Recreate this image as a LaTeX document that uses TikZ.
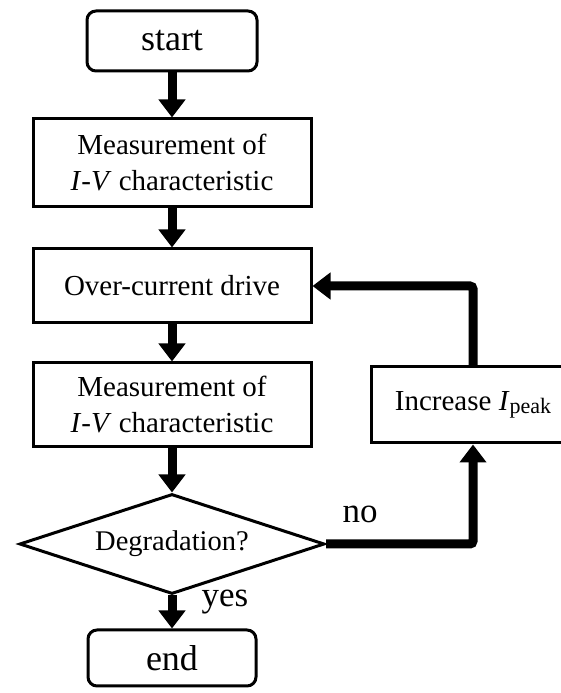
\documentclass[tikz,border=0pt]{standalone}
\usepackage{fontspec}
\setmainfont{Liberation Serif}
\usetikzlibrary{shapes.geometric, arrows.meta, positioning}
\tikzset{
  terminal/.style={
    rectangle, rounded corners=9pt,
    minimum width=170pt, minimum height=60pt,
    text centered, draw, line width=3pt,
    font=\fontsize{36}{40}\selectfont,
  },
  process/.style={
    rectangle,
    minimum width=278pt, minimum height=74pt,
    align=center, draw, line width=3pt,
    font=\fontsize{29}{36}\selectfont,
  },
  tallprocess/.style={process, minimum height=88pt},
  decision/.style={
    diamond, aspect=3.05, inner sep=0pt,
    minimum width=305pt, minimum height=100pt,
    text centered, draw, line width=3pt,
    font=\fontsize{28.5}{32}\selectfont,
  },
  arrow/.style={-{Triangle[width=26pt, length=18pt]}, line width=9pt},
  loopline/.style={arrow, rounded corners=3pt},
  lbl/.style={font=\fontsize{35}{40}\selectfont, inner sep=0pt},
}

\begin{document}
\begin{tikzpicture}[x=1pt, y=1pt]
  \useasboundingbox (0,0) rectangle (561,693);

  \node[terminal] (start) at (172,652) {start};
  \node[tallprocess, below=45pt of start] (meas1) {Measurement of\\ \textit{I}-\textit{V} characteristic};
  \node[process, below=39pt of meas1] (drive) {Over-current drive};
  \node[tallprocess, below=37pt of drive, minimum height=84pt] (meas2) {Measurement of\\ \textit{I}-\textit{V} characteristic};
  \node[decision, below=44pt of meas2] (degr) {Degradation?};
  \node[terminal, below=33pt of degr, minimum width=168pt, minimum height=56pt] (stop) {end};
  \node[process, right=57pt of meas2, minimum width=204pt, minimum height=76pt] (incr)
    {Increase \textit{I}\raisebox{-3pt}{\fontsize{22}{22}\selectfont peak}};

  \draw[arrow] (start) -- (meas1);
  \draw[arrow] (meas1) -- (drive);
  \draw[arrow] (drive) -- (meas2);
  \draw[arrow] (meas2) -- (degr);
  \draw[arrow] (degr) -- (stop);
  \draw[loopline] (degr.east) -| (incr.south);
  \draw[loopline] (incr.north) |- (drive.east);

  \node[lbl] (yes) at (225,91) {yes};
  \node[lbl] (no) at (360,179) {no};

\end{tikzpicture}
\end{document}
